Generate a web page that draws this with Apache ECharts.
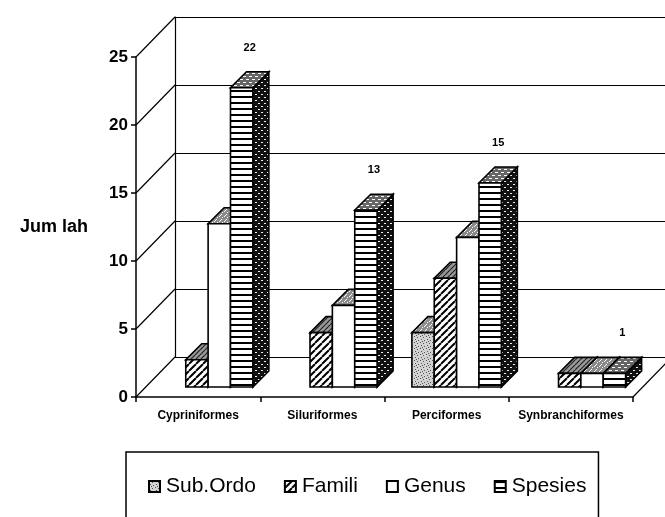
<!DOCTYPE html>
<html>
<head>
<meta charset="utf-8">
<script src="https://cdn.jsdelivr.net/npm/echarts@6/dist/echarts.min.js"></script>
<style>
  html, body { margin: 0; padding: 0; background: #fff; }
  #chart { width: 665px; height: 517px; }
</style>
</head>
<body>
<div id="chart"></div>
<script>
const categories = ['Cypriniformes', 'Siluriformes', 'Perciformes', 'Synbranchiformes']
const subOrdo = [0, 0, 4, 0]
const famili = [2, 4, 8, 1]
const genus = [12, 6, 11, 1]
const spesies = [22, 13, 15, 1]
const yTicks = [0, 5, 10, 15, 20, 25]

const FONT = '"Liberation Sans", Arial, sans-serif'
const PLOT = { left: 136, top: 57, width: 497, height: 340 }
const WALL_DX = 39
const WALL_DY = 40
const BAR_SHIFT = 10
const BAR_DEPTH = 16
const BAR_RATIO = 0.18

// small canvas tiles used as fills (print-style hatching)
function pattern(size, draw) {
  const c = document.createElement('canvas')
  c.width = size
  c.height = size
  draw(c.getContext('2d'), size)
  return { image: c, repeat: 'repeat' }
}

function dots(bg, fg, pts) {
  return (ctx, s) => {
    ctx.fillStyle = bg
    ctx.fillRect(0, 0, s, s)
    ctx.fillStyle = fg
    pts.forEach(([x, y, w, h]) => ctx.fillRect(x, y, w || 1, h || 1))
  }
}

function hatch(bg, fg, lw) {
  return (ctx, s) => {
    ctx.fillStyle = bg
    ctx.fillRect(0, 0, s, s)
    ctx.strokeStyle = fg
    ctx.lineWidth = lw
    ctx.beginPath()
    for (const k of [-s, 0, s]) {
      ctx.moveTo(k, s)
      ctx.lineTo(k + s, 0)
    }
    ctx.stroke()
  }
}

function stripes(ctx, s) {
  ctx.fillStyle = '#fff'
  ctx.fillRect(0, 0, s, s)
  ctx.fillStyle = '#000'
  ctx.fillRect(0, 0, s, 2)
}

const fills = {
  subOrdo: {
    front: pattern(6, dots('#d2d2d2', '#555', [[0, 0], [3, 1], [1, 3], [4, 4], [2, 5]])),
    top: pattern(5, dots('#8e8e8e', '#fff', [[0, 0], [2, 2], [4, 1], [1, 4]])),
    side: pattern(5, dots('#444', '#ccc', [[0, 0], [2, 3]]))
  },
  famili: {
    front: pattern(7, hatch('#fff', '#000', 2)),
    top: pattern(5, hatch('#999', '#222', 1.2)),
    side: pattern(7, hatch('#555', '#000', 2))
  },
  genus: {
    front: '#fff',
    top: pattern(5, dots('#8a8a8a', '#fff', [[0, 0], [2, 2], [4, 1], [1, 4]])),
    side: '#888'
  },
  spesies: {
    front: pattern(6, stripes),
    top: pattern(6, dots('#666', '#fff', [[0, 1, 3, 1], [3, 4, 3, 1]])),
    side: pattern(6, dots('#111', '#eee', [[0, 1, 2, 1], [3, 4, 2, 1]]))
  }
}

const seriesDefs = [
  { name: 'Sub.Ordo', values: subOrdo, fill: fills.subOrdo },
  { name: 'Famili', values: famili, fill: fills.famili },
  { name: 'Genus', values: genus, fill: fills.genus },
  { name: 'Spesies', values: spesies, fill: fills.spesies, label: true }
]

function barRenderer(slot, fill, withLabel) {
  return (params, api) => {
    const v = api.value(1)
    if (!v) return
    const cat = api.value(0)
    const band = api.size([1, 0])[0]
    const w = band * BAR_RATIO
    const base = api.coord([cat, 0])
    const top = api.coord([cat, v])
    const x0 = base[0] + (slot - 2) * w + BAR_SHIFT
    const x1 = x0 + w
    const yb = base[1] - BAR_SHIFT
    const yt = top[1] - BAR_SHIFT
    const d = BAR_DEPTH
    const line = { stroke: '#000', lineWidth: 1.6 }
    const children = [
      { type: 'polygon', shape: { points: [[x1, yt], [x1 + d, yt - d], [x1 + d, yb - d], [x1, yb]] }, style: Object.assign({ fill: fill.side }, line) },
      { type: 'polygon', shape: { points: [[x0, yt], [x1, yt], [x1 + d, yt - d], [x0 + d, yt - d]] }, style: Object.assign({ fill: fill.top }, line) },
      { type: 'rect', shape: { x: x0, y: yt, width: w, height: yb - yt }, style: Object.assign({ fill: fill.front }, line) }
    ]
    if (withLabel) {
      children.push({
        type: 'text',
        style: {
          text: String(v), x: (x0 + x1) / 2 + 8, y: yt - 40,
          align: 'center', verticalAlign: 'middle',
          font: 'bold 11px ' + FONT, fill: '#000'
        }
      })
    }
    return { type: 'group', children }
  }
}

// diagonal edges of the side wall and the floor
function wallRenderer(params, api) {
  const v = api.value(1)
  const band = api.size([1, 0])[0]
  const p = api.coord([0, v])
  const left = p[0] - band / 2
  const st = { stroke: '#000', lineWidth: 1.2 }
  const children = [
    { type: 'line', shape: { x1: left, y1: p[1], x2: left + WALL_DX, y2: p[1] - WALL_DY }, style: st }
  ]
  if (v === 0) {
    const r = api.coord([categories.length - 1, 0])[0] + band / 2
    children.push({ type: 'line', shape: { x1: r, y1: p[1], x2: r + WALL_DX, y2: p[1] - WALL_DY }, style: st })
  }
  return { type: 'group', children }
}

const chart = echarts.init(document.getElementById('chart'), null, { renderer: 'canvas' })

chart.setOption({
  animation: false,
  backgroundColor: '#fff',
  grid: [
    PLOT,
    { left: PLOT.left + WALL_DX, top: PLOT.top - WALL_DY, width: PLOT.width, height: PLOT.height }
  ],
  xAxis: [
    {
      gridIndex: 0,
      type: 'category',
      data: categories,
      axisLine: { lineStyle: { color: '#000', width: 1.5 } },
      axisTick: { show: true, length: 5, lineStyle: { color: '#000', width: 1.5 } },
      axisLabel: { color: '#000', fontFamily: FONT, fontSize: 12, fontWeight: 'bold', margin: 13, interval: 0 }
    },
    { gridIndex: 1, type: 'category', data: categories, show: false }
  ],
  yAxis: [
    {
      gridIndex: 0,
      type: 'value',
      min: 0,
      max: 25,
      interval: 5,
      name: 'Jum lah',
      nameLocation: 'middle',
      nameRotate: 0,
      nameGap: 48,
      nameTextStyle: { color: '#000', fontFamily: FONT, fontSize: 18, fontWeight: 'bold' },
      axisLine: { show: true, lineStyle: { color: '#000', width: 1.5 } },
      axisTick: { show: true, length: 5, lineStyle: { color: '#000', width: 1.5 } },
      axisLabel: { color: '#000', fontFamily: FONT, fontSize: 17, fontWeight: 'bold', margin: 8 },
      splitLine: { show: false }
    },
    {
      gridIndex: 1,
      type: 'value',
      min: 0,
      max: 25,
      interval: 5,
      axisLine: { show: true, lineStyle: { color: '#000', width: 1.2 } },
      axisTick: { show: false },
      axisLabel: { show: false },
      splitLine: { show: true, lineStyle: { color: '#000', width: 1.2 } }
    }
  ],
  legend: {
    left: 126,
    top: 452,
    padding: [24, 12, 40, 22],
    borderColor: '#000',
    borderWidth: 1.5,
    itemWidth: 11,
    itemHeight: 11,
    itemGap: 28,
    textStyle: { color: '#000', fontFamily: FONT, fontSize: 21, padding: [0, 0, 0, 1] },
    data: seriesDefs.map(s => ({
      name: s.name,
      icon: 'rect',
      itemStyle: { color: s.fill.front, borderColor: '#000', borderWidth: 2 }
    }))
  },
  series: [
    {
      type: 'custom',
      name: 'walls',
      xAxisIndex: 0,
      yAxisIndex: 0,
      silent: true,
      renderItem: wallRenderer,
      data: yTicks.map(v => [0, v])
    },
    ...seriesDefs.map((s, i) => ({
      type: 'custom',
      name: s.name,
      xAxisIndex: 0,
      yAxisIndex: 0,
      itemStyle: { color: s.fill.front, borderColor: '#000', borderWidth: 1.5 },
      renderItem: barRenderer(i, s.fill, !!s.label),
      data: s.values.map((v, j) => [j, v])
    }))
  ]
})
</script>
</body>
</html>
